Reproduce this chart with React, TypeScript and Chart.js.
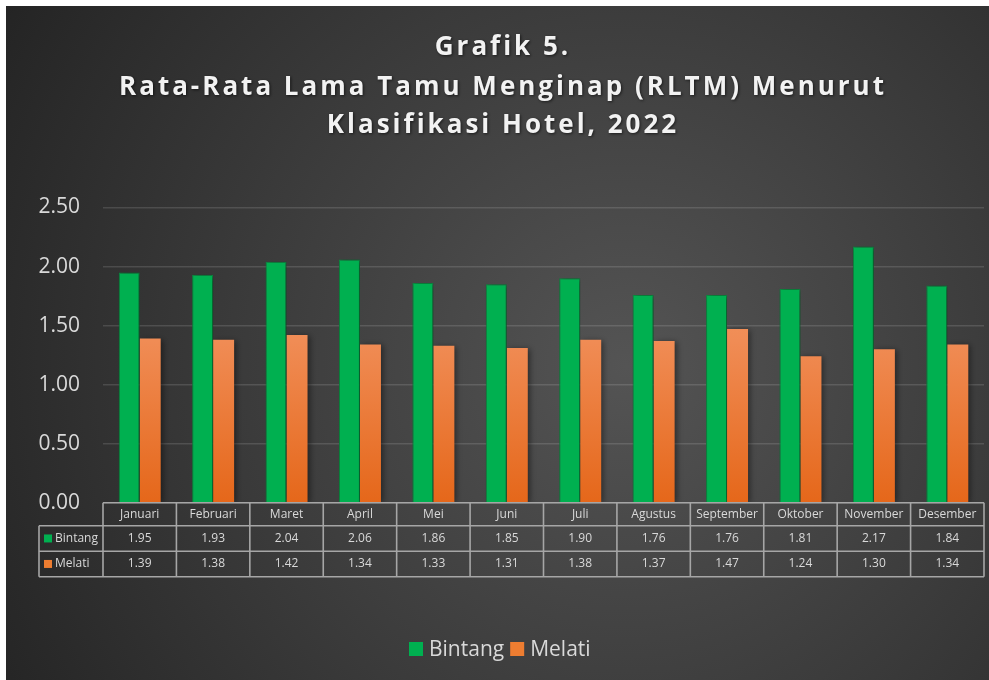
import { useEffect, useRef } from 'react';
import { Chart, registerables } from 'chart.js';

Chart.register(...registerables);

const titleLines = ['Grafik 5.', 'Rata-Rata Lama Tamu Menginap (RLTM) Menurut', 'Klasifikasi Hotel, 2022'];
const months = ['Januari', 'Februari', 'Maret', 'April', 'Mei', 'Juni', 'Juli', 'Agustus', 'September', 'Oktober', 'November', 'Desember'];
const bintang = [1.95, 1.93, 2.04, 2.06, 1.86, 1.85, 1.9, 1.76, 1.76, 1.81, 2.17, 1.84];
const melati = [1.39, 1.38, 1.42, 1.34, 1.33, 1.31, 1.38, 1.37, 1.47, 1.24, 1.3, 1.34];
const seriesNames = ['Bintang', 'Melati'];
const yMax = 2.5;
const yStep = 0.5;

const GREEN = '#00B050';
const ORANGE = '#ED7D31';
const TEXT = '#d9d9d9';
const FONT = '"Open Sans", "Noto Sans", sans-serif';

export default function App() {
  const ref = useRef<HTMLCanvasElement | null>(null);

  useEffect(() => {
    const canvas = ref.current;
    if (!canvas) return;

    const bgPlugin = {
      id: 'bg',
      beforeDraw(chart: any) {
        const { ctx, width, height } = chart;
        ctx.save();
        const g = ctx.createRadialGradient(620, 360, 0, 620, 360, 720);
        g.addColorStop(0, '#545454');
        g.addColorStop(0.55, '#3a3a3a');
        g.addColorStop(1, '#242424');
        ctx.fillStyle = g;
        ctx.fillRect(0, 0, width, height);
        // title
        ctx.fillStyle = '#f2f2f2';
        ctx.font = `bold 26px ${FONT}`;
        (ctx as any).letterSpacing = '3px';
        ctx.textAlign = 'center';
        ctx.textBaseline = 'middle';
        ctx.shadowColor = 'rgba(0,0,0,0.6)';
        ctx.shadowBlur = 3;
        ctx.shadowOffsetX = 1;
        ctx.shadowOffsetY = 1;
        const ys = [42, 82, 120];
        titleLines.forEach((t, i) => ctx.fillText(t, 497, ys[i]));
        ctx.restore();
      },
      beforeDatasetsDraw(chart: any) {
        const ctx = chart.ctx;
        ctx.save();
        ctx.shadowColor = 'rgba(0,0,0,0.45)';
        ctx.shadowBlur = 6;
        ctx.shadowOffsetX = 2;
        ctx.shadowOffsetY = 1;
      },
      afterDatasetsDraw(chart: any) {
        chart.ctx.restore();
      },
      afterDraw(chart: any) {
        const { ctx, chartArea } = chart;
        const x = chart.scales.x;
        const n = months.length;
        const cw = (x.right - x.left) / n;
        const top = chartArea.bottom;
        const rowY = [top, top + 23, top + 48.5, top + 74];
        const labelLeft = 33;
        ctx.save();
        ctx.strokeStyle = '#a6a6a6';
        ctx.lineWidth = 1.6;
        ctx.beginPath();
        ctx.moveTo(x.left, rowY[0]);
        ctx.lineTo(x.right, rowY[0]);
        for (let r = 1; r < 4; r++) {
          ctx.moveTo(labelLeft, rowY[r]);
          ctx.lineTo(x.right, rowY[r]);
        }
        ctx.moveTo(labelLeft, rowY[1]);
        ctx.lineTo(labelLeft, rowY[3]);
        for (let i = 0; i <= n; i++) {
          const px = x.left + i * cw;
          ctx.moveTo(px, rowY[0]);
          ctx.lineTo(px, rowY[3]);
        }
        ctx.stroke();

        ctx.fillStyle = TEXT;
        ctx.font = `12px ${FONT}`;
        ctx.textAlign = 'center';
        ctx.textBaseline = 'middle';
        months.forEach((m, i) => {
          const cx = x.getPixelForValue(i);
          ctx.fillText(m, cx, (rowY[0] + rowY[1]) / 2);
          ctx.fillText(bintang[i].toFixed(2), cx, (rowY[1] + rowY[2]) / 2);
          ctx.fillText(melati[i].toFixed(2), cx, (rowY[2] + rowY[3]) / 2);
        });
        ctx.textAlign = 'left';
        const colors = [GREEN, ORANGE];
        seriesNames.forEach((s, r) => {
          const cy = (rowY[r + 1] + rowY[r + 2]) / 2;
          ctx.fillStyle = colors[r];
          ctx.fillRect(labelLeft + 5, cy - 4, 8, 8);
          ctx.fillStyle = TEXT;
          ctx.fillText(s, labelLeft + 16, cy);
        });

        // legend
        ctx.font = `21px ${FONT}`;
        ctx.textBaseline = 'middle';
        const ly = 643;
        let lx = 403;
        seriesNames.forEach((s, r) => {
          ctx.fillStyle = colors[r];
          ctx.fillRect(lx, ly - 7, 14, 14);
          ctx.fillStyle = TEXT;
          ctx.fillText(s, lx + 20, ly + 1);
          lx += 20 + ctx.measureText(s).width + 6;
        });
        ctx.restore();
      },
    };

    const orangeFill = (c: any) => {
      const area = c.chart.chartArea;
      if (!area) return ORANGE;
      const g = c.chart.ctx.createLinearGradient(0, area.top, 0, area.bottom);
      g.addColorStop(0, '#F8A46E');
      g.addColorStop(0.45, '#F08C55');
      g.addColorStop(1, '#E5671A');
      return g;
    };

    const chart = new Chart(canvas, {
      type: 'bar',
      data: {
        labels: months,
        datasets: [
          {
            label: seriesNames[0],
            data: bintang,
            backgroundColor: GREEN,
            borderColor: '#0b8f42',
            borderWidth: 1,
            categoryPercentage: 0.572,
            barPercentage: 1,
          },
          {
            label: seriesNames[1],
            data: melati,
            backgroundColor: orangeFill,
            borderWidth: 0,
            categoryPercentage: 0.572,
            barPercentage: 1,
          },
        ],
      },
      options: {
        animation: false,
        responsive: false,
        devicePixelRatio: 1,
        layout: { padding: { left: 0, right: 5, top: 201.5, bottom: 177.3 } },
        plugins: {
          legend: { display: false },
          title: { display: false },
          tooltip: { enabled: false },
        },
        scales: {
          x: { display: false },
          y: {
            min: 0,
            max: yMax,
            afterFit: (s: any) => {
              s.width = 97;
            },
            ticks: {
              stepSize: yStep,
              padding: 23,
              color: TEXT,
              font: { family: FONT, size: 21 },
              callback: (v: any) => Number(v).toFixed(2),
            },
            grid: { color: 'rgba(255,255,255,0.13)', lineWidth: 1.6, drawTicks: false },
            border: { display: false },
          },
        },
      },
      plugins: [bgPlugin],
    });
    return () => chart.destroy();
  }, []);

  return (
    <div style={{ position: 'absolute', left: 6, top: 6, width: 983, height: 674 }}>
      <canvas ref={ref} width={983} height={674} style={{ display: 'block', width: 983, height: 674 }} />
    </div>
  );
}
